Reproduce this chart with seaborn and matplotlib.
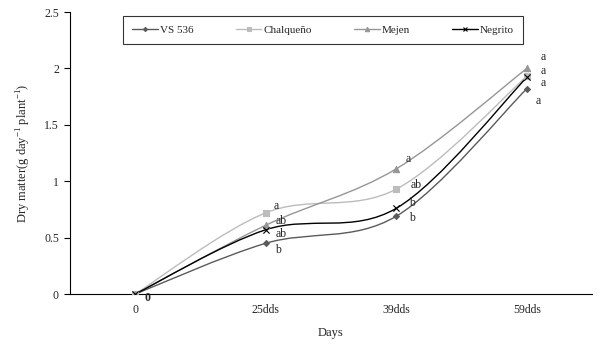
import numpy as np
import pandas as pd
import seaborn as sns
import matplotlib.pyplot as plt
from matplotlib.path import Path
from matplotlib.patches import PathPatch
from matplotlib.lines import Line2D

days = ["0", "25dds", "39dds", "59dds"]
vs536 = [0.0, 0.45, 0.69, 1.82]
chalqueno = [0.0, 0.72, 0.93, 1.93]
mejen = [0.0, 0.61, 1.11, 2.0]
negrito = [0.0, 0.57, 0.76, 1.92]

letters_vs536 = ["", "b", "b", "a"]
letters_chalqueno = ["", "a", "ab", "a"]
letters_mejen = ["", "ab", "a", "a"]
letters_negrito = ["0", "ab", "b", "a"]

series = {
    "VS 536": (vs536, letters_vs536),
    "Chalqueño": (chalqueno, letters_chalqueno),
    "Mejen": (mejen, letters_mejen),
    "Negrito": (negrito, letters_negrito),
}

styles = {
    "VS 536": dict(color="#5a5a5a", marker="D", ms=3),
    "Chalqueño": dict(color="#bcbcbc", marker="s", ms=4.5),
    "Mejen": dict(color="#969696", marker="^", ms=4.5),
    "Negrito": dict(color="#000000", marker="x", ms=4.5),
}

# letter offsets (points) per series per day
offsets = {
    "VS 536": [(0, 0), (7, -5), (9, -1), (6, -9)],
    "Chalqueño": [(0, 0), (6, 5), (10, 3), (10, 4)],
    "Mejen": [(0, 0), (7, 3), (7, 7), (10, 8)],
    "Negrito": [(7, -3), (7, -3), (9, 4), (10, -4)],
}


def smooth_path(xs, ys):
    # Excel-like smoothed line: cubic Bezier through points
    pts = np.column_stack([xs, ys])
    n = len(pts)
    verts = [pts[0]]
    codes = [Path.MOVETO]
    for i in range(n - 1):
        p0 = pts[i - 1] if i > 0 else pts[i]
        p1 = pts[i]
        p2 = pts[i + 1]
        p3 = pts[i + 2] if i + 2 < n else pts[i + 1]
        c1 = p1 + (p2 - p0) / 6
        c2 = p2 - (p3 - p1) / 6
        verts += [c1, c2, p2]
        codes += [Path.CURVE4] * 3
    return Path(verts, codes)


def main():
    sns.set_style("white")
    plt.rcParams["font.family"] = ["Liberation Serif", "DejaVu Serif"]
    plt.rcParams["mathtext.fontset"] = "custom"
    plt.rcParams["mathtext.rm"] = "Liberation Serif"

    fig = plt.figure(figsize=(6.06, 3.44), dpi=100)
    ax = fig.add_axes([0.1155, 0.1453, 0.8615, 0.8197])

    x = np.arange(len(days))
    handles = []
    for name, (vals, lets) in series.items():
        st = styles[name]
        ax.add_patch(PathPatch(smooth_path(x, vals), fill=False,
                               edgecolor=st["color"], lw=1.0, zorder=2))
        df = pd.DataFrame({"x": x, "y": vals})
        sns.scatterplot(data=df, x="x", y="y", ax=ax, color=st["color"],
                        marker=st["marker"], s=st["ms"] ** 2,
                        edgecolor=st["color"] if st["marker"] != "x" else None,
                        linewidth=0.8, zorder=3)
        for i, (v, l) in enumerate(zip(vals, lets)):
            if l:
                ax.annotate(l, (i, v), xytext=offsets[name][i],
                            textcoords="offset points", fontsize=8.5,
                            ha="left", va="center",
                            fontweight="bold" if l == "0" else "normal")
        handles.append(Line2D([], [], color=st["color"], lw=1.0,
                              marker=st["marker"], ms=st["ms"] * 0.7,
                              markeredgewidth=0.8))

    ax.set_xlim(-0.5, 3.5)
    ax.set_ylim(0, 2.5)
    ax.set_yticks([0, 0.5, 1, 1.5, 2, 2.5])
    ax.set_yticklabels(["0", "0.5", "1", "1.5", "2", "2.5"], fontsize=8.5)
    ax.set_xticks(x)
    ax.set_xticklabels(days, fontsize=8.5)
    ax.set_xticks(np.arange(-0.5, 3.6, 1), minor=True)
    ax.tick_params(axis="x", which="major", length=0, pad=7)
    ax.tick_params(axis="x", which="minor", length=4, direction="out",
                   width=0.8, color="black")
    ax.tick_params(axis="y", length=4, direction="out", width=0.8,
                   color="black", left=True, pad=4)
    for s in ["top", "right"]:
        ax.spines[s].set_visible(False)
    for s in ["left", "bottom"]:
        ax.spines[s].set_color("black")
        ax.spines[s].set_linewidth(0.8)

    ax.set_xlabel("Days", fontsize=9, labelpad=8)
    ax.set_ylabel("Dry matter(g day$^{-1}$ plant$^{-1}$)", fontsize=9,
                  labelpad=8)

    leg = ax.legend(handles, list(series.keys()), ncol=4, fontsize=8,
                    loc="upper left", bbox_to_anchor=(0.102, 0.985),
                    frameon=True, fancybox=False, edgecolor="black",
                    handlelength=2.3, columnspacing=3.8, borderpad=0.8,
                    handletextpad=0.2, borderaxespad=0)
    leg.get_frame().set_linewidth(0.8)

    fig.savefig("out.png", dpi=100)
    plt.close(fig)


if __name__ == "__main__":
    main()
